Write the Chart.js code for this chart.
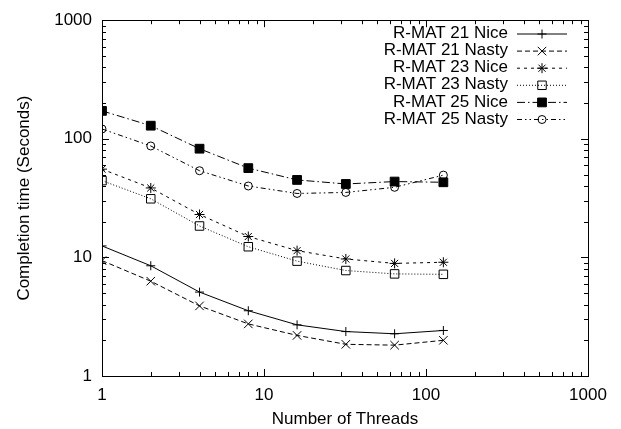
<!DOCTYPE html>
<html>
<head>
<meta charset="utf-8">
<script src="https://cdn.jsdelivr.net/npm/chart.js@4"></script>
<style>
  html, body { margin: 0; padding: 0; background: #fff; }
  #wrap { width: 621px; height: 429px; }
</style>
</head>
<body>
<div id="wrap"><canvas id="grafico" width="621" height="429"></canvas></div>
<script>
// dados (escala log-log)
const threads = [1, 2, 4, 8, 16, 32, 64, 128];
const rmat21Nice = [12.5, 8.5, 5.1, 3.55, 2.7, 2.37, 2.27, 2.42];
const rmat21Nasty = [9.4, 6.3, 3.9, 2.75, 2.2, 1.85, 1.82, 2.0];
const rmat23Nice = [55.5, 38.5, 23, 15, 11.4, 9.7, 8.9, 9.1];
const rmat23Nasty = [44.4, 31.2, 18.4, 12.3, 9.3, 7.75, 7.26, 7.2];
const rmat25Nice = [172, 129, 82.5, 56.6, 45, 41.6, 43.6, 43];
const rmat25Nasty = [121, 87, 53.8, 40, 34.6, 35.3, 39, 49.4];

const tickLabels = ["1", "10", "100", "1000"];
const tickValues = [1, 2, 3, 4, 5, 6, 7, 8, 9, 10, 20, 30, 40, 50, 60, 70, 80, 90,
  100, 200, 300, 400, 500, 600, 700, 800, 900, 1000];

const fonte = "'Liberation Sans', Arial, Helvetica, sans-serif";

function serie(label, valores, dash, estilo, raio, fundo) {
  return {
    label: label,
    data: threads.map((t, i) => ({ x: t, y: valores[i] })),
    borderColor: "#000",
    borderWidth: 1,
    borderDash: dash,
    pointStyle: estilo,
    pointRadius: raio,
    pointBorderColor: "#000",
    pointBorderWidth: 1,
    pointBackgroundColor: fundo,
    tension: 0,
  };
}

const datasets = [
  serie("R-MAT 21 Nice", rmat21Nice, [], "cross", 4.5, "rgba(0,0,0,0)"),
  serie("R-MAT 21 Nasty", rmat21Nasty, [5, 3], "crossRot", 6, "rgba(0,0,0,0)"),
  serie("R-MAT 23 Nice", rmat23Nice, [3, 4], "star", 5, "rgba(0,0,0,0)"),
  serie("R-MAT 23 Nasty", rmat23Nasty, [1, 2], "rect", 6, "rgba(0,0,0,0)"),
  serie("R-MAT 25 Nice", rmat25Nice, [8, 3, 1.5, 3], "rect", 6.2, "#000"),
  serie("R-MAT 25 Nasty", rmat25Nasty, [5, 3, 1.5, 3, 1.5, 3], "circle", 4, "rgba(0,0,0,0)"),
];

const isMajor = (v) => Math.abs(Math.log10(v) - Math.round(Math.log10(v))) < 1e-9;

// moldura e marcas de escala para dentro (estilo gnuplot)
const moldura = {
  id: "moldura",
  afterDraw(chart) {
    const ctx = chart.ctx;
    const a = chart.chartArea;
    const sx = chart.scales.x;
    const sy = chart.scales.y;
    ctx.save();
    ctx.strokeStyle = "#000";
    ctx.lineWidth = 1;
    ctx.setLineDash([]);
    ctx.beginPath();
    tickValues.forEach((v) => {
      const len = isMajor(v) ? 7 : 4;
      const px = Math.round(sx.getPixelForValue(v)) + 0.5;
      ctx.moveTo(px, a.bottom);
      ctx.lineTo(px, a.bottom - len);
      ctx.moveTo(px, a.top);
      ctx.lineTo(px, a.top + len);
      const py = Math.round(sy.getPixelForValue(v)) + 0.5;
      ctx.moveTo(a.left, py);
      ctx.lineTo(a.left + len, py);
      ctx.moveTo(a.right, py);
      ctx.lineTo(a.right - len, py);
    });
    ctx.stroke();
    ctx.strokeRect(Math.round(a.left) + 0.5, Math.round(a.top) + 0.5,
      Math.round(a.right - a.left), Math.round(a.bottom - a.top));

    // legenda no canto superior direito
    ctx.font = "17px " + fonte;
    ctx.fillStyle = "#000";
    ctx.textAlign = "right";
    ctx.textBaseline = "middle";
    chart.data.datasets.forEach((ds, i) => {
      const y = 33.5 + 17.1 * i;
      ctx.fillText(ds.label, 508, y);
      ctx.setLineDash(ds.borderDash);
      ctx.lineWidth = ds.borderWidth;
      ctx.beginPath();
      ctx.moveTo(517, y + 0.5);
      ctx.lineTo(567, y + 0.5);
      ctx.stroke();
      ctx.setLineDash([]);
      ctx.fillStyle = ds.pointBackgroundColor;
      Chart.helpers.drawPoint(ctx, {
        pointStyle: ds.pointStyle,
        radius: ds.pointRadius,
        borderWidth: 1,
        rotation: 0,
      }, 542, y + 0.5);
      ctx.fillStyle = "#000";
    });
    ctx.restore();
  },
};

new Chart(document.getElementById("grafico").getContext("2d"), {
  type: "line",
  data: { datasets: datasets },
  options: {
    responsive: false,
    animation: false,
    layout: { padding: { top: 15, right: 33, bottom: 0, left: 0 } },
    plugins: { legend: { display: false }, tooltip: { enabled: false } },
    scales: {
      x: {
        type: "logarithmic",
        min: 1,
        max: 1000,
        grid: { display: false, drawTicks: false },
        border: { display: false },
        afterBuildTicks: (s) => { s.ticks = tickValues.map((v) => ({ value: v })); },
        afterFit: (s) => { s.height = 53; },
        ticks: {
          autoSkip: false,
          maxRotation: 0,
          padding: 9,
          color: "#000",
          font: { family: fonte, size: 17 },
          callback: (v) => (isMajor(v) ? tickLabels[Math.round(Math.log10(v))] : ""),
        },
        title: {
          display: true,
          text: "Number of Threads",
          color: "#000",
          font: { family: fonte, size: 17 },
          padding: { top: 0, bottom: -1 },
        },
      },
      y: {
        type: "logarithmic",
        min: 1,
        max: 1000,
        grid: { display: false, drawTicks: false },
        border: { display: false },
        afterBuildTicks: (s) => { s.ticks = tickValues.map((v) => ({ value: v })); },
        afterFit: (s) => { s.width = 102; },
        ticks: {
          autoSkip: false,
          padding: 10,
          color: "#000",
          font: { family: fonte, size: 17 },
          callback: (v) => (isMajor(v) ? tickLabels[Math.round(Math.log10(v))] : ""),
        },
        title: {
          display: true,
          text: "Completion time (Seconds)",
          color: "#000",
          font: { family: fonte, size: 17 },
          padding: { top: 14, bottom: 0 },
        },
      },
    },
  },
  plugins: [moldura],
});
</script>
</body>
</html>
